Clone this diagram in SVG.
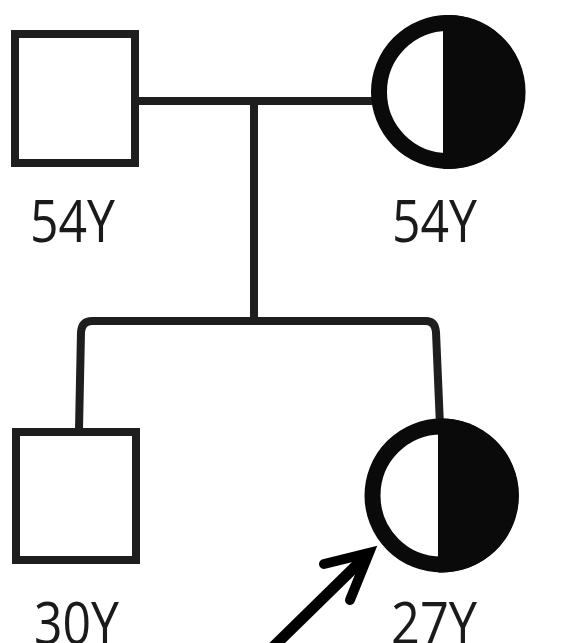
<svg xmlns="http://www.w3.org/2000/svg" width="577" height="643" viewBox="0 0 577 643">
<style>
.sq{fill:#fff;stroke:#1e1e1e;stroke-width:8}
.ring{fill:none;stroke:#0a0a0a;stroke-width:16}
.half{fill:#0a0a0a}
.ln{fill:none;stroke:#1e1e1e;stroke-width:8}
.lbl{font-family:"Open Sans","Noto Sans",sans-serif;font-size:58px;fill:#1a1a1a}
</style>
<rect width="577" height="643" fill="#fff"/>
<g id="connectors">
<path class="ln" d="M139,101 H378"/>
<path class="ln" d="M254,101 V321"/>
<path class="ln" d="M79,429 L81,332 Q82,321 92,321 L426,321 Q435,321 436,332 L440,426"/>
</g>
<g id="father">
<rect class="sq" x="15" y="34" width="120" height="129"/>
<text class="lbl" x="30" y="242" textLength="85" lengthAdjust="spacingAndGlyphs">54Y</text>
</g>
<g id="mother">
<path class="half" d="M443,15.2 A77,77 0 1 1 443,168.8 Z"/>
<circle class="ring" cx="448" cy="92" r="69"/>
<text class="lbl" x="392" y="242" textLength="85" lengthAdjust="spacingAndGlyphs">54Y</text>
</g>
<g id="son">
<rect class="sq" x="16" y="432" width="120" height="128"/>
<text class="lbl" x="34" y="644" textLength="85" lengthAdjust="spacingAndGlyphs">30Y</text>
</g>
<g id="proband">
<path class="half" d="M438,418.6 A77,77 0 1 1 438,572.4 Z"/>
<circle class="ring" cx="441.5" cy="495.5" r="69"/>
<text class="lbl" x="391" y="644" textLength="86" lengthAdjust="spacingAndGlyphs">27Y</text>
</g>
<g id="arrow">
<path d="M268,652 L364,558" fill="none" stroke="#000" stroke-width="11"/>
<path d="M324,564 L369,553 L350,600" fill="none" stroke="#000" stroke-width="10" stroke-linecap="round" stroke-linejoin="miter"/>
</g>
</svg>
